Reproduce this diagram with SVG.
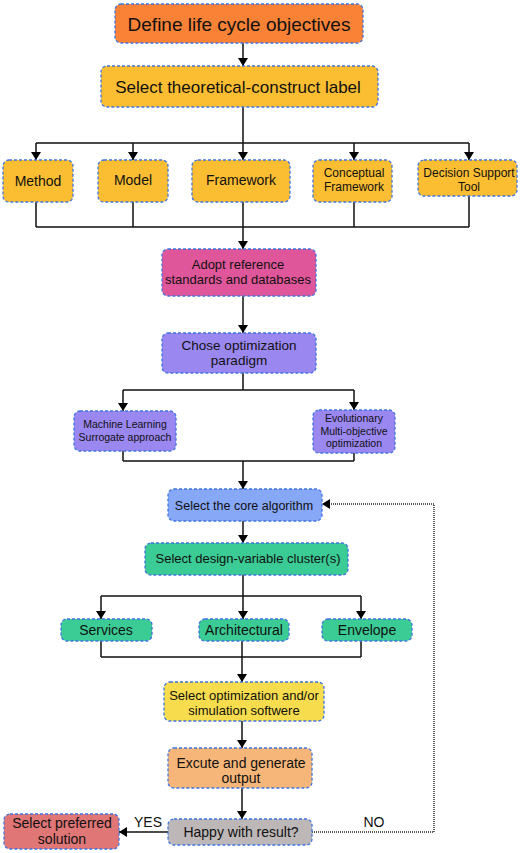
<svg xmlns="http://www.w3.org/2000/svg" width="520" height="853" viewBox="0 0 520 853">
<defs>
<marker id="ah" viewBox="0 0 8 10" refX="8" refY="5" markerWidth="8" markerHeight="10" markerUnits="userSpaceOnUse" orient="auto">
<path d="M0,0 L8,5 L0,10 z" fill="#000"/>
</marker>
</defs>
<style>
.n{stroke:#3f74e0;stroke-width:1.3;stroke-dasharray:3 2}
.t{font-family:"Liberation Sans",Arial,sans-serif;fill:#111;text-anchor:middle}
.c{fill:none;stroke:#111;stroke-width:1.5}
.d{fill:none;stroke:#222;stroke-width:1.4;stroke-dasharray:1 1}
</style>
<rect width="520" height="853" fill="#fff"/>

<g id="connectors">
<path class="c" d="M243,43 V66" marker-end="url(#ah)"/>
<path class="c" d="M243,107 V143 M36,143 H469"/>
<path class="c" d="M36,143 V160" marker-end="url(#ah)"/>
<path class="c" d="M133,143 V160" marker-end="url(#ah)"/>
<path class="c" d="M243,143 V160" marker-end="url(#ah)"/>
<path class="c" d="M354,143 V160" marker-end="url(#ah)"/>
<path class="c" d="M469,143 V160" marker-end="url(#ah)"/>
<path class="c" d="M36,202 V227 M133,202 V227 M354,202 V227 M469,196 V227 M36,227 H469"/>
<path class="c" d="M243,202 V249" marker-end="url(#ah)"/>
<path class="c" d="M243,296 V333" marker-end="url(#ah)"/>
<path class="c" d="M243,373 V390 M123,390 H354"/>
<path class="c" d="M123,390 V411" marker-end="url(#ah)"/>
<path class="c" d="M354,390 V410" marker-end="url(#ah)"/>
<path class="c" d="M123,451 V461 M354,453 V461 M123,461 H354"/>
<path class="c" d="M243,461 V489" marker-end="url(#ah)"/>
<path class="c" d="M243,521 V543" marker-end="url(#ah)"/>
<path class="c" d="M243,575 V596 M101,596 H361"/>
<path class="c" d="M101,596 V619" marker-end="url(#ah)"/>
<path class="c" d="M243,596 V619" marker-end="url(#ah)"/>
<path class="c" d="M361,596 V619" marker-end="url(#ah)"/>
<path class="c" d="M101,641 V657 M361,641 V657 M101,657 H361"/>
<path class="c" d="M242,641 V682" marker-end="url(#ah)"/>
<path class="c" d="M242,721 V748" marker-end="url(#ah)"/>
<path class="c" d="M242,788 V819" marker-end="url(#ah)"/>
<path class="c" d="M168,832 H119" marker-end="url(#ah)"/>
<path class="d" d="M312,832 H434 V504 H322" marker-end="url(#ah)"/>
<text class="t" x="148" y="827" font-size="14">YES</text>
<text class="t" x="374" y="827" font-size="14">NO</text>
</g>

<g id="define">
<rect class="n" x="115" y="4" width="248" height="39" rx="6" fill="#f98236"/>
<text class="t" x="239" y="31" font-size="19">Define life cycle objectives</text>
</g>
<g id="select-label">
<rect class="n" x="101" y="66" width="277" height="41" rx="6" fill="#fbbe32"/>
<text class="t" x="238" y="93" font-size="17">Select theoretical-construct label</text>
</g>
<g id="method">
<rect class="n" x="3" y="160" width="70" height="42" rx="6" fill="#fbbe32"/>
<text class="t" x="38" y="186" font-size="14">Method</text>
</g>
<g id="model">
<rect class="n" x="98" y="160" width="70" height="42" rx="6" fill="#fbbe32"/>
<text class="t" x="133" y="185" font-size="14">Model</text>
</g>
<g id="framework">
<rect class="n" x="192" y="160" width="98" height="42" rx="6" fill="#fbbe32"/>
<text class="t" x="241" y="185" font-size="14">Framework</text>
</g>
<g id="conceptual">
<rect class="n" x="313" y="160" width="79" height="42" rx="6" fill="#fbbe32"/>
<text class="t" x="354" y="177" font-size="12">Conceptual</text>
<text class="t" x="354" y="191" font-size="12">Framework</text>
</g>
<g id="dst">
<rect class="n" x="418" y="160" width="99" height="36" rx="6" fill="#fbbe32"/>
<text class="t" x="469" y="177" font-size="12">Decision Support</text>
<text class="t" x="469" y="191" font-size="12">Tool</text>
</g>
<g id="adopt">
<rect class="n" x="162" y="249" width="154" height="47" rx="6" fill="#e0569a"/>
<text class="t" x="238" y="269" font-size="13">Adopt reference</text>
<text class="t" x="238" y="284" font-size="13">standards and databases</text>
</g>
<g id="chose">
<rect class="n" x="162" y="333" width="154" height="40" rx="6" fill="#9b87f0"/>
<text class="t" x="239" y="350" font-size="13.5">Chose optimization</text>
<text class="t" x="239" y="365" font-size="13.5">paradigm</text>
</g>
<g id="ml">
<rect class="n" x="74" y="411" width="102" height="40" rx="6" fill="#9b87f0"/>
<text class="t" x="125" y="428" font-size="10.5">Machine Learning</text>
<text class="t" x="125" y="441" font-size="10.5">Surrogate approach</text>
</g>
<g id="evo">
<rect class="n" x="313" y="410" width="82" height="43" rx="6" fill="#9b87f0"/>
<text class="t" x="354" y="422" font-size="10.5">Evolutionary</text>
<text class="t" x="354" y="435" font-size="10.5">Multi-objective</text>
<text class="t" x="354" y="447" font-size="10.5">optimization</text>
</g>
<g id="core">
<rect class="n" x="168" y="489" width="154" height="32" rx="6" fill="#87a7f7"/>
<text class="t" x="244" y="510" font-size="12.5">Select the core algorithm</text>
</g>
<g id="design">
<rect class="n" x="145" y="543" width="203" height="32" rx="6" fill="#3bcb94"/>
<text class="t" x="248" y="563" font-size="13">Select design-variable cluster(s)</text>
</g>
<g id="services">
<rect class="n" x="61" y="619" width="91" height="22" rx="6" fill="#3bcb94"/>
<text class="t" x="106" y="635" font-size="14">Services</text>
</g>
<g id="architectural">
<rect class="n" x="199" y="619" width="90" height="22" rx="6" fill="#3bcb94"/>
<text class="t" x="244" y="635" font-size="14">Architectural</text>
</g>
<g id="envelope">
<rect class="n" x="322" y="619" width="90" height="22" rx="6" fill="#3bcb94"/>
<text class="t" x="367" y="635" font-size="14">Envelope</text>
</g>
<g id="software">
<rect class="n" x="164" y="682" width="160" height="39" rx="6" fill="#f7dd4e"/>
<text class="t" x="244" y="700" font-size="13">Select optimization and/or</text>
<text class="t" x="244" y="715" font-size="13">simulation softwere</text>
</g>
<g id="execute">
<rect class="n" x="168" y="748" width="144" height="40" rx="6" fill="#f7b679"/>
<text class="t" x="241" y="768" font-size="14">Excute and generate</text>
<text class="t" x="241" y="783" font-size="14">output</text>
</g>
<g id="happy">
<rect class="n" x="168" y="819" width="144" height="26" rx="6" fill="#bdb7b7"/>
<text class="t" x="241" y="837" font-size="14">Happy with result?</text>
</g>
<g id="preferred">
<rect class="n" x="4" y="814" width="115" height="35" rx="6" fill="#e07676"/>
<text class="t" x="62" y="828" font-size="14">Select preferred</text>
<text class="t" x="62" y="844" font-size="14">solution</text>
</g>
</svg>
